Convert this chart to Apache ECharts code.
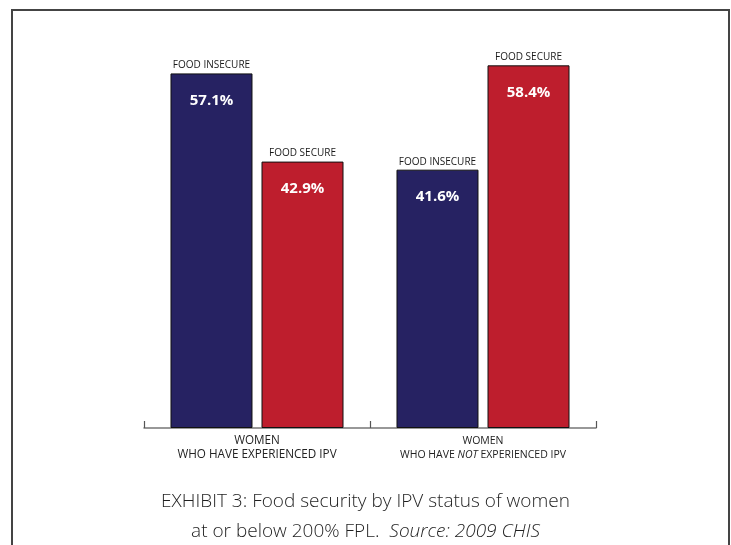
<!DOCTYPE html>
<html>
<head>
<meta charset="utf-8">
<script src="https://cdn.jsdelivr.net/npm/echarts@6/dist/echarts.min.js"></script>
<style>html,body{margin:0;padding:0;background:#fff}#c{width:731px;height:545px}</style>
</head>
<body>
<div id="c"></div>
<script>
const categories = ['WOMEN\nWHO HAVE EXPERIENCED IPV', 'WOMEN\nWHO HAVE NOT EXPERIENCED IPV'];
const seriesNames = ['FOOD INSECURE', 'FOOD SECURE'];
const foodInsecure = [57.1, 41.6];
const foodSecure = [42.9, 58.4];
const titleLine1 = 'EXHIBIT 3: Food security by IPV status of women';
const titleLine2 = 'at or below 200% FPL.  ';
const titleSource = 'Source: 2009 CHIS';

const FONT = 'Open Sans';
const chart = echarts.init(document.getElementById('c'));

function barLabel(name) {
  return {
    show: true,
    position: ['50%', -16],
    align: 'center',
    verticalAlign: 'top',
    formatter: p => '{a|' + name + '}\n{b|' + p.value.toFixed(1) + '%}',
    rich: {
      a: { fontFamily: FONT, fontSize: 10, color: '#1a1a1a', lineHeight: 16, align: 'center' },
      b: { fontFamily: FONT, fontSize: 15, fontWeight: 'bold', color: '#fff', lineHeight: 54, align: 'center' }
    }
  };
}

chart.setOption({
  animation: false,
  textStyle: { fontFamily: FONT },
  title: {
    left: 'center',
    top: 482,
    text: '{t|' + titleLine1 + '}\n{t|' + titleLine2 + '}{s|' + titleSource + '}',
    textStyle: {
      rich: {
        t: { fontFamily: FONT, fontSize: 19, fontWeight: 300, color: '#1f1f1f', lineHeight: 30 },
        s: { fontFamily: FONT, fontSize: 19, fontWeight: 300, fontStyle: 'italic', color: '#1f1f1f', lineHeight: 30 }
      }
    }
  },
  graphic: [{
    type: 'rect',
    shape: { x: 12, y: 10, width: 717, height: 600 },
    style: { fill: 'none', stroke: '#444', lineWidth: 2 },
    silent: true
  }],
  grid: { left: 144, right: 135, top: 55.4, bottom: 117, containLabel: false },
  xAxis: {
    type: 'category',
    data: categories,
    axisLine: { lineStyle: { color: '#777', width: 1.5 } },
    axisTick: { show: true, inside: true, length: 7, lineStyle: { color: '#555', width: 1.2 } },
    axisLabel: {
      margin: 6,
      interval: 0,
      formatter: (v, i) => {
        const lines = v.split('\n');
        if (i === 0) return '{a|' + lines[0] + '}\n{a|' + lines[1] + '}';
        const parts = lines[1].split('NOT');
        return '{b|' + lines[0] + '}\n{b|' + parts[0] + '}{bi|NOT}{b|' + parts[1] + '}';
      },
      rich: {
        a: { fontFamily: FONT, fontSize: 11.7, color: '#222', lineHeight: 14 },
        b: { fontFamily: FONT, fontSize: 10.5, color: '#222', lineHeight: 14 },
        bi: { fontFamily: FONT, fontSize: 10.5, fontStyle: 'italic', color: '#222', lineHeight: 14 }
      }
    }
  },
  yAxis: { type: 'value', min: 0, max: 60, show: false, splitLine: { show: false } },
  series: [
    {
      name: seriesNames[0], type: 'bar', data: foodInsecure,
      barWidth: 82, barGap: '11%',
      itemStyle: { color: '#262262', borderColor: '#111', borderWidth: 1 },
      label: barLabel(seriesNames[0])
    },
    {
      name: seriesNames[1], type: 'bar', data: foodSecure,
      barWidth: 82, barGap: '11%',
      itemStyle: { color: '#BE1E2D', borderColor: '#111', borderWidth: 1 },
      label: barLabel(seriesNames[1])
    }
  ]
});
</script>
</body>
</html>
